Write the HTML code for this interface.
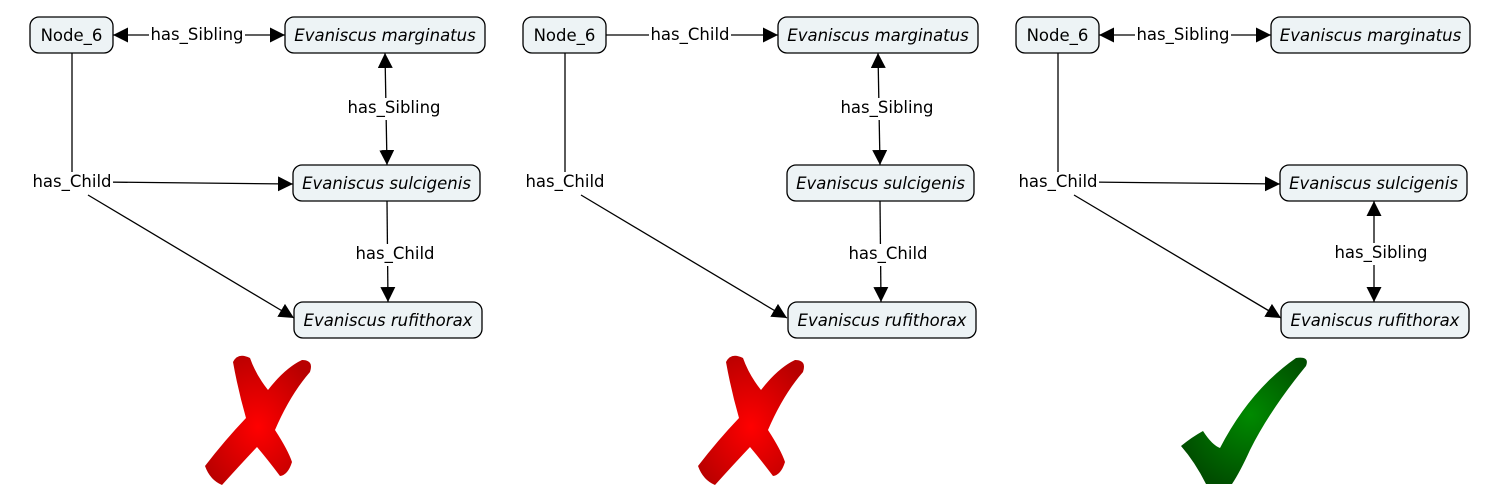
<!DOCTYPE html>
<html><head><meta charset="utf-8"><style>
html,body{margin:0;padding:0;background:#fff;}
svg{display:block;}
text{font-family:"DejaVu Sans","Liberation Sans",sans-serif;font-size:16.5px;fill:#000;}
.n{fill:#edf3f5;stroke:#000;stroke-width:1.3;}
.l{stroke:#000;stroke-width:1.3;fill:none;}
.i{font-style:italic;}
</style></head><body>
<svg width="1501" height="500" viewBox="0 0 1501 500" xmlns="http://www.w3.org/2000/svg">
<defs>
<marker id="a" viewBox="0 0 10 10" refX="10" refY="5" markerWidth="15" markerHeight="15" markerUnits="userSpaceOnUse" orient="auto-start-reverse"><path d="M0,0L10,5L0,10z" fill="#000"/></marker>
<radialGradient id="rg" cx="0.5" cy="0.55" r="0.6"><stop offset="0" stop-color="#ff0000"/><stop offset="1" stop-color="#b80000"/></radialGradient>
<radialGradient id="gg" cx="0.55" cy="0.45" r="0.6"><stop offset="0" stop-color="#008a00"/><stop offset="1" stop-color="#004d00"/></radialGradient>
<path id="x" d="M233,362 Q238,352 250,358 Q256,375 268,390 Q285,368 302,360 Q314,360 310,372 Q290,395 275,430 Q288,450 292,462 Q288,475 280,476 Q268,460 257,447 Q240,465 222,485 Q210,480 205,466 Q225,440 246,418 Q238,390 233,362 Z"/>
</defs>

<!-- Panel 1 -->
<g>
<line class="l" x1="113" y1="35" x2="285" y2="35" marker-start="url(#a)" marker-end="url(#a)"/>
<rect x="149" y="25" width="96" height="22" fill="#fff"/><text x="197" y="40" text-anchor="middle">has_Sibling</text>
<line class="l" x1="385" y1="53" x2="387" y2="165" marker-start="url(#a)" marker-end="url(#a)"/>
<rect x="346" y="98" width="96" height="22" fill="#fff"/><text x="394" y="113" text-anchor="middle">has_Sibling</text>
<line class="l" x1="72" y1="53" x2="72" y2="175"/>
<line class="l" x1="100" y1="182" x2="293" y2="184" marker-end="url(#a)"/>
<line class="l" x1="88" y1="195" x2="294" y2="318" marker-end="url(#a)"/>
<rect x="31" y="172" width="82" height="22" fill="#fff"/><text x="72" y="187" text-anchor="middle">has_Child</text>
<line class="l" x1="387" y1="201" x2="388" y2="302" marker-end="url(#a)"/>
<rect x="354" y="244" width="82" height="22" fill="#fff"/><text x="395" y="259" text-anchor="middle">has_Child</text>
<rect class="n" x="30" y="17" width="83" height="36" rx="9"/>
<text x="71.5" y="41" text-anchor="middle">Node_6</text>
<rect class="n" x="285" y="17" width="200" height="36" rx="9"/>
<text class="i" x="385" y="41" text-anchor="middle">Evaniscus marginatus</text>
<rect class="n" x="293" y="165" width="187" height="36" rx="9"/>
<text class="i" x="386.5" y="189" text-anchor="middle">Evaniscus sulcigenis</text>
<rect class="n" x="294" y="302" width="188" height="36" rx="9"/>
<text class="i" x="388" y="326" text-anchor="middle">Evaniscus rufithorax</text>
<use href="#x" fill="url(#rg)"/>
</g>

<!-- Panel 2 -->
<g transform="translate(493,0)">
<line class="l" x1="113" y1="35" x2="285" y2="35" marker-end="url(#a)"/>
<rect x="156" y="25" width="82" height="22" fill="#fff"/><text x="197" y="40" text-anchor="middle">has_Child</text>
<line class="l" x1="385" y1="53" x2="387" y2="165" marker-start="url(#a)" marker-end="url(#a)"/>
<rect x="346" y="98" width="96" height="22" fill="#fff"/><text x="394" y="113" text-anchor="middle">has_Sibling</text>
<line class="l" x1="72" y1="53" x2="72" y2="175"/>
<line class="l" x1="88" y1="195" x2="294" y2="318" marker-end="url(#a)"/>
<rect x="31" y="172" width="82" height="22" fill="#fff"/><text x="72" y="187" text-anchor="middle">has_Child</text>
<line class="l" x1="387" y1="201" x2="388" y2="302" marker-end="url(#a)"/>
<rect x="354" y="244" width="82" height="22" fill="#fff"/><text x="395" y="259" text-anchor="middle">has_Child</text>
<rect class="n" x="30" y="17" width="83" height="36" rx="9"/>
<text x="71.5" y="41" text-anchor="middle">Node_6</text>
<rect class="n" x="285" y="17" width="200" height="36" rx="9"/>
<text class="i" x="385" y="41" text-anchor="middle">Evaniscus marginatus</text>
<rect class="n" x="294" y="165" width="187" height="36" rx="9"/>
<text class="i" x="387.5" y="189" text-anchor="middle">Evaniscus sulcigenis</text>
<rect class="n" x="295" y="302" width="188" height="36" rx="9"/>
<text class="i" x="389" y="326" text-anchor="middle">Evaniscus rufithorax</text>
<use href="#x" fill="url(#rg)"/>
</g>

<!-- Panel 3 -->
<g transform="translate(986,0)">
<line class="l" x1="113" y1="35" x2="285" y2="35" marker-start="url(#a)" marker-end="url(#a)"/>
<rect x="149" y="25" width="96" height="22" fill="#fff"/><text x="197" y="40" text-anchor="middle">has_Sibling</text>
<line class="l" x1="72" y1="53" x2="72" y2="175"/>
<line class="l" x1="100" y1="182" x2="294" y2="184" marker-end="url(#a)"/>
<line class="l" x1="88" y1="195" x2="295" y2="318" marker-end="url(#a)"/>
<rect x="31" y="172" width="82" height="22" fill="#fff"/><text x="72" y="187" text-anchor="middle">has_Child</text>
<line class="l" x1="388" y1="201" x2="388" y2="302" marker-start="url(#a)" marker-end="url(#a)"/>
<rect x="347" y="243" width="96" height="22" fill="#fff"/><text x="395" y="258" text-anchor="middle">has_Sibling</text>
<rect class="n" x="30" y="17" width="83" height="36" rx="9"/>
<text x="71.5" y="41" text-anchor="middle">Node_6</text>
<rect class="n" x="285" y="17" width="199" height="36" rx="9"/>
<text class="i" x="384.5" y="41" text-anchor="middle">Evaniscus marginatus</text>
<rect class="n" x="294" y="165" width="187" height="36" rx="9"/>
<text class="i" x="387.5" y="189" text-anchor="middle">Evaniscus sulcigenis</text>
<rect class="n" x="295" y="302" width="188" height="36" rx="9"/>
<text class="i" x="389" y="326" text-anchor="middle">Evaniscus rufithorax</text>
</g>
<path fill="url(#gg)" d="M1181,446 Q1192,437 1203,431 Q1212,445 1220,448 Q1250,390 1296,358 Q1310,356 1306,366 Q1270,410 1250,450 Q1240,472 1232,484 L1206,484 Q1195,462 1181,446 Z"/>
</svg>
</body></html>
